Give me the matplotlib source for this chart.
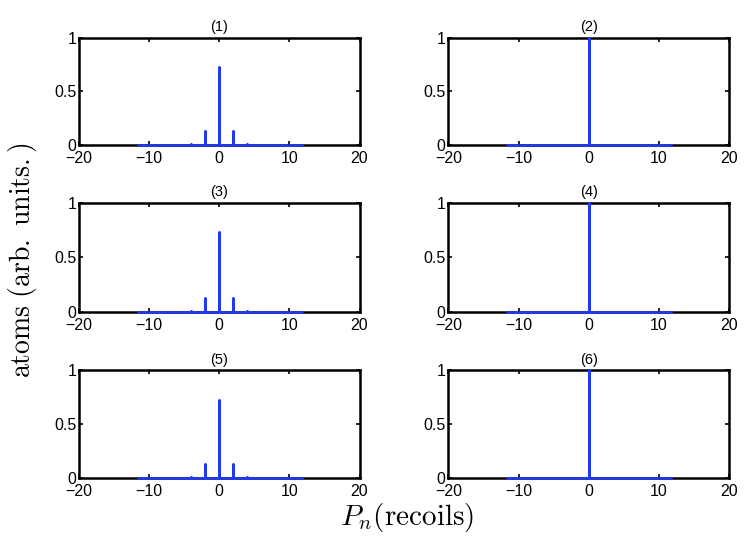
import matplotlib.pyplot as plt
import numpy as np

plt.rcParams['mathtext.fontset'] = 'cm'
plt.rcParams['font.family'] = ['Liberation Sans', 'DejaVu Sans']

# momentum orders (recoils) and populations
ordens = [-4, -2, 0, 2, 4]
pop_impar = [0.005, 0.13, 0.73, 0.13, 0.005]   # panels 1, 3, 5
pop_par = [0.0, 0.0, 1.0, 0.0, 0.0]            # panels 2, 4, 6
grade = [-11.6, 11.8]                           # extent of the momentum grid

titulos = ['(1)', '(2)', '(3)', '(4)', '(5)', '(6)']
xticks = [-20, -10, 0, 10, 20]
yticks = [0, 0.5, 1]
yticklabels = ['0', '0.5', '1']


def monta_linha(ordens, pops, grade):
    # spectrum drawn as one line: baseline with vertical spikes at each order
    xs = [grade[0]]
    ys = [0]
    for n, p in zip(ordens, pops):
        xs += [n, n, n]
        ys += [0, p, 0]
    xs.append(grade[1])
    ys.append(0)
    return xs, ys


fig = plt.figure(figsize=(7.47, 5.41), dpi=100)

esquerda = [0.1058, 0.6004]
largura = 0.3755
baixo = [0.732, 0.4233, 0.1165]
altura = [0.1978, 0.2015, 0.1987]

for i in range(6):
    linha = i // 2
    col = i % 2
    ax = fig.add_axes([esquerda[col], baixo[linha], largura, altura[linha]])
    pops = pop_impar if col == 0 else pop_par
    xs, ys = monta_linha(ordens, pops, grade)
    ax.plot(xs, ys, color='#2038f8', linewidth=1.8, zorder=3, clip_on=False)
    ax.set_xlim(-20, 20)
    ax.set_ylim(0, 1)
    ax.set_xticks(xticks)
    ax.set_xticklabels([str(t).replace('-', '\u2212') for t in xticks])
    ax.set_yticks(yticks)
    ax.set_yticklabels(yticklabels)
    ax.tick_params(direction='in', top=True, right=True, length=3, width=1.2,
                   labelsize=11.5)
    ax.tick_params(axis='x', pad=4)
    ax.tick_params(axis='y', pad=2)
    for s in ax.spines.values():
        s.set_linewidth(1.8)
    ax.set_title(titulos[i], fontsize=10.5, pad=5)

fig.text(0.030, 0.519, r'$\mathrm{atoms\ (arb.\ units.)}$', rotation=90,
         fontsize=20, ha='center', va='center')
fig.text(0.545, 0.044, r'$P_n(\mathrm{recoils})$', fontsize=21,
         ha='center', va='center')

plt.savefig('out.png', dpi=100)
